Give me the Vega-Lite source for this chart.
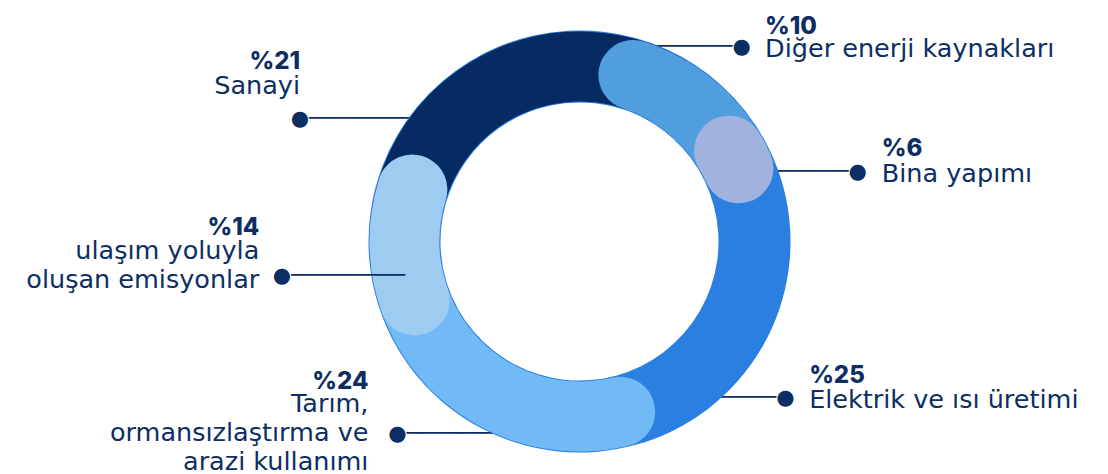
{
"$schema": "https://vega.github.io/schema/vega-lite/v6.json",
"width": 1057, "height": 465,
"autosize": {"type": "none"},
"padding": {"left": 51, "top": 9, "right": 0, "bottom": 0},
"background": "#ffffff",
"config": {"view": {"stroke": null}},
"data": {"values": [
 {"cat": "Diğer", "label": "Diğer enerji kaynakları", "pct": 10, "pctText": "%10", "order": 1},
 {"cat": "Bina", "label": "Bina yapımı", "pct": 6, "pctText": "%6", "order": 2},
 {"cat": "Elektrik", "label": "Elektrik ve ısı üretimi", "pct": 25, "pctText": "%25", "order": 3},
 {"cat": "Tarım", "label": "Tarım,\normansızlaştırma ve\narazi kullanımı", "pct": 24, "pctText": "%24", "order": 4},
 {"cat": "Ulaşım", "label": "ulaşım yoluyla\noluşan emisyonlar", "pct": 14, "pctText": "%14", "order": 5},
 {"cat": "Sanayi", "label": "Sanayi", "pct": 21, "pctText": "%21", "order": 6}
]},
"transform": [{"stack": "pct", "groupby": [], "sort": [{"field": "order", "order": "ascending"}], "as": ["v0", "v1"]}],
"encoding": {"theta": {"field": "v0", "type": "quantitative", "stack": null, "scale": {"domain": [0, 100], "range": [0.1117, 6.3949]}}},
"layer": [
 {"transform": [{"filter": "datum.cat === 'Diğer'"}], "mark": {"type": "text", "radius": 210, "thetaOffset": 0.2793, "dx": -15.6, "text": "───────●", "font": "DejaVu Sans", "fontSize": 21, "baseline": "middle", "align": "left", "color": "#0D2E62"}},
 {"transform": [{"filter": "datum.cat === 'Bina'"}], "mark": {"type": "text", "radius": 210, "thetaOffset": 0.4922, "dx": -17.6, "text": "───────●", "font": "DejaVu Sans", "fontSize": 21, "baseline": "middle", "align": "left", "color": "#0D2E62"}},
 {"transform": [{"filter": "datum.cat === 'Elektrik'"}], "mark": {"type": "text", "radius": 210, "thetaOffset": 1.2933, "dx": -19.4, "text": "──────●", "font": "DejaVu Sans", "fontSize": 21, "baseline": "middle", "align": "left", "color": "#0D2E62"}},
 {"transform": [{"filter": "datum.cat === 'Tarım'"}], "mark": {"type": "text", "radius": 210, "thetaOffset": 0.8604, "dx": -108.3, "text": "●────────", "font": "DejaVu Sans", "fontSize": 21, "baseline": "middle", "align": "left", "color": "#0D2E62"}},
 {"transform": [{"filter": "datum.cat === 'Sanayi'"}], "mark": {"type": "text", "radius": 210, "thetaOffset": 0.2583, "dx": -118.0, "text": "●─────────", "font": "DejaVu Sans", "fontSize": 21, "baseline": "middle", "align": "left", "color": "#0D2E62"}},

 {"mark": {"type": "arc", "radius": 211, "radius2": 139, "color": "#2A7FE0"}, "encoding": {"theta2": {"field": "v1"}}},

 {"transform": [{"filter": "datum.cat === 'Elektrik'"}], "mark": {"type": "arc", "radius": 210, "radius2": 140, "cornerRadius": 35, "thetaOffset": -0.2356, "theta2Offset": 0.6545}, "encoding": {"theta2": {"field": "v1"}, "color": {"field": "cat", "type": "nominal", "legend": null, "scale": {"domain": ["Diğer", "Bina", "Elektrik", "Tarım", "Ulaşım", "Sanayi"], "range": ["#519EDF", "#A0B3DF", "#2A7FE0", "#72BAF6", "#9DCCF0", "#062B63"]}}}},
 {"transform": [{"filter": "datum.cat === 'Tarım'"}], "mark": {"type": "arc", "radius": 210, "radius2": 140, "cornerRadius": 35, "thetaOffset": 0.0175, "theta2Offset": 0.5777}, "encoding": {"theta2": {"field": "v1"}, "color": {"field": "cat", "type": "nominal", "legend": null}}},
 {"transform": [{"filter": "datum.cat === 'Sanayi'"}], "mark": {"type": "arc", "radius": 210, "radius2": 140, "cornerRadius": 35, "thetaOffset": -0.3892, "theta2Offset": 0.6126}, "encoding": {"theta2": {"field": "v1"}, "color": {"field": "cat", "type": "nominal", "legend": null}}},
 {"transform": [{"filter": "datum.cat === 'Diğer'"}], "mark": {"type": "arc", "radius": 210, "radius2": 140, "cornerRadius": 35, "thetaOffset": 0, "theta2Offset": 0.5428}, "encoding": {"theta2": {"field": "v1"}, "color": {"field": "cat", "type": "nominal", "legend": null}}},
 {"transform": [{"filter": "datum.cat === 'Bina'"}], "mark": {"type": "arc", "radius": 210, "radius2": 140, "cornerRadius": 35, "thetaOffset": 0.0838, "theta2Offset": 0.2234}, "encoding": {"theta2": {"field": "v1"}, "color": {"field": "cat", "type": "nominal", "legend": null}}},
 {"transform": [{"filter": "datum.cat === 'Ulaşım'"}], "mark": {"type": "arc", "radius": 210, "radius2": 140, "cornerRadius": 35, "thetaOffset": -0.0279, "theta2Offset": 0.1396}, "encoding": {"theta2": {"field": "v1"}, "color": {"field": "cat", "type": "nominal", "legend": null}}},

 {"transform": [{"filter": "datum.cat === 'Ulaşım'"}], "mark": {"type": "text", "radius": 177.9, "thetaOffset": 0.3211, "dx": 0, "text": "●─────────", "font": "DejaVu Sans", "fontSize": 21, "baseline": "middle", "align": "right", "color": "#0D2E62"}},

 {"transform": [{"filter": "datum.cat === 'Diğer'"}], "mark": {"type": "text", "radius": 210, "thetaOffset": 0.2793, "dx": 105.5, "dy": -20.6, "font": "Inter", "fontWeight": 800, "fontSize": 24, "align": "left", "color": "#0D2E62"}, "encoding": {"text": {"field": "pctText"}}},
 {"transform": [{"filter": "datum.cat === 'Bina'"}], "mark": {"type": "text", "radius": 210, "thetaOffset": 0.4922, "dx": 104.2, "dy": -22.4, "font": "Inter", "fontWeight": 800, "fontSize": 24, "align": "left", "color": "#0D2E62"}, "encoding": {"text": {"field": "pctText"}}},
 {"transform": [{"filter": "datum.cat === 'Elektrik'"}], "mark": {"type": "text", "radius": 210, "thetaOffset": 1.2933, "dx": 89.4, "dy": -21.7, "font": "Inter", "fontWeight": 800, "fontSize": 24, "align": "left", "color": "#0D2E62"}, "encoding": {"text": {"field": "pctText"}}},
 {"transform": [{"filter": "datum.cat === 'Tarım'"}], "mark": {"type": "text", "radius": 210, "thetaOffset": 0.8604, "dx": -128, "dy": -52.6, "font": "Inter", "fontWeight": 800, "fontSize": 24, "align": "right", "color": "#0D2E62"}, "encoding": {"text": {"field": "pctText"}}},
 {"transform": [{"filter": "datum.cat === 'Ulaşım'"}], "mark": {"type": "text", "radius": 177.9, "thetaOffset": 0.3211, "dx": -145.7, "dy": -48.3, "font": "Inter", "fontWeight": 800, "fontSize": 24, "align": "right", "color": "#0D2E62"}, "encoding": {"text": {"field": "pctText"}}},
 {"transform": [{"filter": "datum.cat === 'Sanayi'"}], "mark": {"type": "text", "radius": 210, "thetaOffset": 0.2583, "dx": -108.7, "dy": -57.6, "font": "Inter", "fontWeight": 800, "fontSize": 24, "align": "right", "color": "#0D2E62"}, "encoding": {"text": {"field": "pctText"}}},

 {"transform": [{"filter": "datum.cat === 'Diğer'"}], "mark": {"type": "text", "radius": 210, "thetaOffset": 0.2793, "dx": 105.5, "dy": 1.7, "font": "DejaVu Sans", "fontSize": 25.5, "align": "left", "color": "#0D2E62", "lineBreak": "\n", "lineHeight": 29}, "encoding": {"text": {"field": "label"}}},
 {"transform": [{"filter": "datum.cat === 'Bina'"}], "mark": {"type": "text", "radius": 210, "thetaOffset": 0.4922, "dx": 104.2, "dy": 2.3, "font": "DejaVu Sans", "fontSize": 25.5, "align": "left", "color": "#0D2E62", "lineBreak": "\n", "lineHeight": 29}, "encoding": {"text": {"field": "label"}}},
 {"transform": [{"filter": "datum.cat === 'Elektrik'"}], "mark": {"type": "text", "radius": 210, "thetaOffset": 1.2933, "dx": 89.4, "dy": 2.3, "font": "DejaVu Sans", "fontSize": 25.5, "align": "left", "color": "#0D2E62", "lineBreak": "\n", "lineHeight": 29}, "encoding": {"text": {"field": "label"}}},
 {"transform": [{"filter": "datum.cat === 'Tarım'"}], "mark": {"type": "text", "radius": 210, "thetaOffset": 0.8604, "dx": -128, "dy": -30.8, "font": "DejaVu Sans", "fontSize": 25.5, "align": "right", "color": "#0D2E62", "lineBreak": "\n", "lineHeight": 29}, "encoding": {"text": {"field": "label"}}},
 {"transform": [{"filter": "datum.cat === 'Ulaşım'"}], "mark": {"type": "text", "radius": 177.9, "thetaOffset": 0.3211, "dx": -145.7, "dy": -25.3, "font": "DejaVu Sans", "fontSize": 25.5, "align": "right", "color": "#0D2E62", "lineBreak": "\n", "lineHeight": 29.3}, "encoding": {"text": {"field": "label"}}},
 {"transform": [{"filter": "datum.cat === 'Sanayi'"}], "mark": {"type": "text", "radius": 210, "thetaOffset": 0.2583, "dx": -108.7, "dy": -33, "font": "DejaVu Sans", "fontSize": 25.5, "align": "right", "color": "#0D2E62", "lineBreak": "\n", "lineHeight": 29}, "encoding": {"text": {"field": "label"}}}
]
}
